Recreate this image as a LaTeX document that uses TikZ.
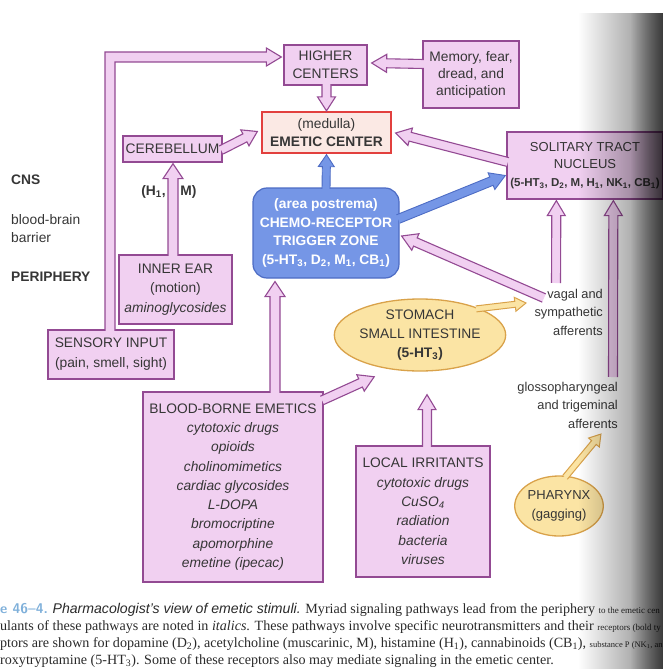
\documentclass[tikz,border=0pt]{standalone}
\usepackage{fontspec}
\setmainfont{Liberation Sans}
\newfontfamily\capserif{Liberation Serif}
\usetikzlibrary{calc,fadings,shapes.geometric}
\definecolor{boxfill}{HTML}{F1D0F1}
\definecolor{boxline}{HTML}{934A93}
\definecolor{ecfill}{HTML}{FBE9E4}
\definecolor{ecline}{HTML}{E2403E}
\definecolor{ctzfill}{HTML}{7596E6}
\definecolor{ctzline}{HTML}{4D6CC4}
\definecolor{yfill}{HTML}{FBE4A4}
\definecolor{yline}{HTML}{D9A24A}
\definecolor{txt}{HTML}{363636}
\definecolor{capblue}{HTML}{7FB0DA}
\definecolor{captxt}{HTML}{2A2A2A}
\tikzfading[name=fadeR, left color=transparent!100, right color=transparent!0]
\newcommand\sbs[1]{\textsubscript{#1}}
% #1 style, #2 from, #3 to, #4 shaft half width, #5 head half width, #6 head length
\newcommand\fatarrow[6]{%
  \path let \p1=(#2), \p2=(#3), \n1={atan2(\y2-\y1,\x2-\x1)}, \n2={veclen(\x2-\x1,\y2-\y1)} in
    \pgfextra{\pgfmathsetmacro\FAtmpa{\n1}\pgfmathsetmacro\FAtmpb{\n2}%
      \xdef\FAang{\FAtmpa}\xdef\FAlen{\FAtmpb}\xdef\FAx{\x1}\xdef\FAy{\y1}};
  \begin{scope}[shift={(\FAx,\FAy)}, rotate=\FAang]
    \path[#1] (0pt,-#4pt) -- ({\FAlen pt-#6pt},-#4pt) -- ({\FAlen pt-#6pt},-#5pt) -- (\FAlen pt,0pt)
      -- ({\FAlen pt-#6pt},#5pt) -- ({\FAlen pt-#6pt},#4pt) -- (0pt,#4pt);
  \end{scope}}
\begin{document}
\begin{tikzpicture}[x=1pt,y=-1pt,
  font=\fontsize{13.8}{19}\selectfont,
  every node/.append style={text=txt},
  pbox/.style={draw=boxline, fill=boxfill, line width=1.3pt, rectangle, inner sep=0pt, align=center},
  pinkarr/.style={fill=boxfill, draw=boxline, line width=1.1pt, line join=miter},
  bluearr/.style={fill=ctzfill, draw=ctzline, line width=0.9pt, line join=miter},
  yelarr/.style={fill=yfill, draw=yline, line width=1pt, line join=miter},
  lbl/.style={inner sep=0pt},
  caprow/.style={inner sep=0pt, anchor=base west, text=captxt, font=\capserif\fontsize{14.1}{16}\selectfont},
  oval/.style={ellipse, draw=yline, fill=yfill, line width=1.3pt, inner sep=0pt, align=center}
]
\useasboundingbox (0,0) rectangle (663,669);
\clip (0,0) rectangle (663,669);

% ---------- boxes ----------
\node[pbox, minimum width=83pt, minimum height=40pt, font=\fontsize{13.8}{18}\selectfont] (hc) at (325.5,65) {HIGHER\\CENTERS};
\node[pbox, minimum width=96pt, minimum height=67pt, font=\fontsize{13.8}{17}\selectfont] (mem) at (471,74.5) {Memory, fear,\\dread, and\\anticipation};
\node[draw=ecline, fill=ecfill, line width=1.3pt, inner sep=0pt, align=center, minimum width=129pt, minimum height=41pt, font=\fontsize{13.8}{18}\selectfont] (ec) at (326.5,132.5) {(medulla)\\\textbf{EMETIC CENTER}};
\node[pbox, minimum width=99pt, minimum height=26pt] (cer) at (172.5,149) {CEREBELLUM};
\node[pbox, minimum width=156pt, minimum height=67pt, font=\fontsize{13}{17.5}\selectfont] (sol) at (585,165.5) {SOLITARY TRACT\\NUCLEUS\\{\fontsize{11.5}{17.5}\selectfont\bfseries (5-HT\sbs{3}, D\sbs{2}, M, H\sbs{1}, NK\sbs{1}, CB\sbs{1})}};
\node[draw=ctzline, fill=ctzfill, line width=1.2pt, rounded corners=14pt, inner sep=0pt, align=center, text=white, font=\fontsize{13.8}{18.5}\selectfont\bfseries, minimum width=146pt, minimum height=90pt] (ctz) at (326,233) {(area postrema)\\CHEMO-RECEPTOR\\TRIGGER ZONE\\(5-HT\sbs{3}, D\sbs{2}, M\sbs{1}, CB\sbs{1})};
\node[pbox, minimum width=113pt, minimum height=69pt, font=\fontsize{13.8}{19.5}\selectfont] (ie) at (175.5,289.5) {INNER EAR\\(motion)\\\textit{aminoglycosides}};
\node[pbox, minimum width=126pt, minimum height=49pt, font=\fontsize{13.8}{20}\selectfont] (si) at (111,354.5) {SENSORY INPUT\\(pain, smell, sight)};
\node[pbox, minimum width=180pt, minimum height=190pt, font=\fontsize{13.8}{19.3}\selectfont] (bb) at (233,487) {BLOOD-BORNE EMETICS\\\textit{cytotoxic drugs}\\\textit{opioids}\\\textit{cholinomimetics}\\\textit{cardiac glycosides}\\\textit{L-DOPA}\\\textit{bromocriptine}\\\textit{apomorphine}\\\textit{emetine (ipecac)}};
\node[pbox, minimum width=134pt, minimum height=131pt, font=\fontsize{13.8}{19.4}\selectfont] (li) at (423,511.5) {LOCAL IRRITANTS\\\textit{cytotoxic drugs}\\\textit{CuSO\sbs{4}}\\\textit{radiation}\\\textit{bacteria}\\\textit{viruses}};
\node[oval, minimum width=160pt, minimum height=72pt, font=\fontsize{13.8}{19}\selectfont] (st) at (420,335) {STOMACH\\SMALL INTESTINE\\\textbf{(5-HT\sbs{3})}};
\node[oval, minimum width=77pt, minimum height=60pt, font=\fontsize{13}{19}\selectfont] (ph) at (559,506) {PHARYNX\\(gagging)};

% ---------- labels ----------
\node[lbl, align=right, anchor=east, font=\fontsize{12.8}{18.5}\selectfont] (vag) at (603,312) {vagal and\\sympathetic\\afferents};
\node[lbl, align=right, anchor=east, font=\fontsize{12.8}{18.5}\selectfont] (glo) at (618,405) {glossopharyngeal\\and trigeminal\\afferents};
\node[lbl, anchor=west, font=\fontsize{13.8}{18}\selectfont\bfseries] (cns) at (11,180) {CNS};
\node[lbl, anchor=west, align=left, font=\fontsize{13.8}{18}\selectfont] (bbb) at (11,229) {blood-brain\\barrier};
\node[lbl, anchor=west, font=\fontsize{13.8}{18}\selectfont\bfseries] (per) at (11,277) {PERIPHERY};
\node[lbl, font=\fontsize{13.8}{18}\selectfont\bfseries] (hone) at (153.5,192) {(H\sbs{1},};
\node[lbl, font=\fontsize{13.8}{18}\selectfont\bfseries] (mm) at (188.5,192) {M)};

% ---------- free ends ----------
\coordinate (vt) at (544,298);
\coordinate (va) at (556,283);
\coordinate (ga) at (613,377);
\coordinate (vtip) at (526,303);
\coordinate (gtip) at (601,434);

% ---------- pink arrows ----------
\coordinate (Lb) at ($(si.north)+(-1,1.5)$);
\coordinate (Lt) at ($(hc.west)+(-2,-8)$);
\path[pinkarr] let \p1=(Lb), \p2=(Lt) in
  (\x1-5pt,\y1) -- (\x1-5pt,\y2+5pt) -- (\x2-15pt,\y2+5pt) -- (\x2-15pt,\y2+9pt) -- (\x2,\y2)
  -- (\x2-15pt,\y2-9pt) -- (\x2-15pt,\y2-5pt) -- (\x1+5pt,\y2-5pt) -- (\x1+5pt,\y1);
\fatarrow{pinkarr}{$(mem.west)+(1.5,-10.5)$}{$(hc.east)+(4,-2)$}{4.5}{9}{15}
\fatarrow{pinkarr}{$(hc.south)+(1,-1.5)$}{$(ec.north)+(0,-0.5)$}{4.5}{9}{14}
\fatarrow{pinkarr}{$(cer.east)+(-1.5,1)$}{$(ec.west)+(-4,-1)$}{4.5}{9}{14}
\fatarrow{pinkarr}{$(ie.north)+(-2.5,1.5)$}{$(cer.south)+(0.5,1)$}{5}{10}{15}
\fatarrow{pinkarr}{$(bb.north)+(42,1.5)$}{$(ctz.south)+(-51,3)$}{5}{10}{15}
\fatarrow{pinkarr}{$(bb.north east)+(-1.5,9)$}{$(st.225)+(-12,8)$}{4.5}{9}{15}
\fatarrow{pinkarr}{$(li.north)+(4,1.5)$}{$(st.south)+(7,23)$}{4.5}{9}{15}
\fatarrow{pinkarr}{$(sol.west)+(1.5,-3.5)$}{$(ec.east)+(4,0.5)$}{4.5}{9}{15}
\fatarrow{pinkarr}{vt}{$(ctz.east)+(2,3)$}{4.5}{9}{15}
\fatarrow{pinkarr}{va}{$(sol.south west)+(50,1)$}{4.5}{9}{15}
\fatarrow{pinkarr}{ga}{$(sol.south west)+(107,1)$}{4.5}{9}{15}

% ---------- blue arrows ----------
\fatarrow{bluearr}{$(ctz.north)+(0,1.5)$}{$(ec.south)+(0,1)$}{4}{8}{12}
\fatarrow{bluearr}{$(ctz.east)+(-1.5,-14)$}{$(sol.west)+(-1,10)$}{4.5}{9}{15}

% ---------- yellow arrows ----------
\fatarrow{yelarr}{$(st.25)+(-2,1)$}{vtip}{3}{7}{11}
\fatarrow{yelarr}{$(ph.north)+(6,2)$}{gtip}{3}{7}{11}

% ---------- caption ----------
\node[caprow] (cap1) at (0,613)
  {{\sffamily\color{capblue}\bfseries e 46–4.} {\rmfamily\itshape Pharmacologist's view of emetic stimuli.} Myriad signaling pathways lead from the periphery {\fontsize{9}{16}\selectfont to the emetic cen}};
\node[caprow] (cap2) at (0,630)
  {ulants of these pathways are noted in \textit{italics}. These pathways involve specific neurotransmitters and their {\fontsize{9}{16}\selectfont receptors (bold ty}};
\node[caprow] (cap3) at (0,647)
  {ptors are shown for dopamine (D\sbs{2}), acetylcholine (muscarinic, M), histamine (H\sbs{1}), cannabinoids (CB\sbs{1}), {\fontsize{8.5}{16}\selectfont substance P (NK\sbs{1}, an}};
\node[caprow] (cap4) at (0,664)
  {roxytryptamine (5-HT\sbs{3}). Some of these receptors also may mediate signaling in the emetic center.};

% ---------- page shadow ----------
\fill[black, path fading=fadeR, fill opacity=0.5] (578,12) rectangle (663,669);
\fill[black, path fading=fadeR, fill opacity=0.55] (630,12) rectangle (663,669);
\end{tikzpicture}
\end{document}
